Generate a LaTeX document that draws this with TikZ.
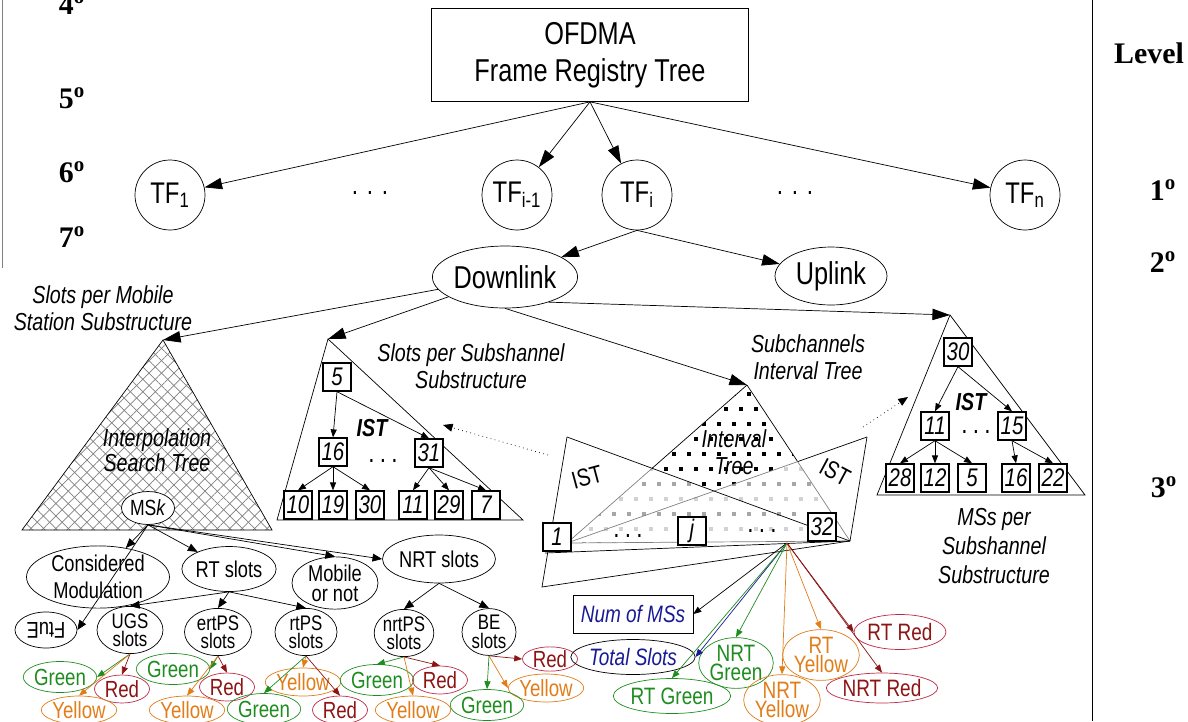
\documentclass[tikz,border=0pt]{standalone}
\usepackage{fontspec}
\setmainfont{Liberation Sans}[FakeStretch=0.8]
\newfontfamily\levelfont{Liberation Serif}
\usepackage{tikz}
\usetikzlibrary{arrows.meta, shapes.geometric, patterns.meta}

\definecolor{leafgreen}{RGB}{30,140,30}
\definecolor{leafyellow}{RGB}{225,125,25}
\definecolor{leafred}{RGB}{140,20,20}
\definecolor{leafredline}{RGB}{190,40,70}
\definecolor{slotblue}{RGB}{25,25,150}

\begin{document}
\begin{tikzpicture}[x=0.02cm, y=-0.02cm,
  every node/.style={inner sep=0pt},
  bigarr/.style={-{Triangle[length=10pt,width=6.5pt]}},
  midarr/.style={-{Triangle[length=5.5pt,width=4.5pt]}},
  smallarr/.style={-{Triangle[length=4.5pt,width=3.5pt]}},
  rootbox/.style={draw, minimum width=6.34cm, minimum height=1.86cm, align=center,
    font=\fontsize{18}{21}\selectfont},
  tf/.style={circle, draw, minimum size=1.4cm, font=\fontsize{17}{18}\selectfont},
  link/.style={ellipse, draw, font=\fontsize{18}{19}\selectfont},
  numbox/.style={draw, fill=white, line width=0.8pt, minimum size=0.56cm,
    font=\fontsize{14.5}{14}\selectfont\itshape},
  caption/.style={align=center, font=\fontsize{14}{15.5}\selectfont\itshape},
  ist/.style={font=\fontsize{14}{14}\selectfont\bfseries\itshape},
  lvlmark/.style={font=\levelfont\fontsize{17}{18}\selectfont\bfseries},
  ellip/.style={font=\fontsize{16}{16}\selectfont, anchor=base},
  sub/.style={ellipse, draw, align=center, font=\fontsize{13}{15.5}\selectfont},
  slot/.style={ellipse, draw, align=center, font=\fontsize{12}{10.5}\selectfont},
  leaf/.style={ellipse, draw=#1, text=#1, align=center, font=\fontsize{13.3}{10.5}\selectfont},
  gleaf/.style={leaf=leafgreen, minimum width=1.2cm, minimum height=0.62cm},
  yleaf/.style={leaf=leafyellow, minimum width=1.34cm, minimum height=0.56cm},
  rleaf/.style={leaf=leafredline, text=leafred, minimum width=1.1cm, minimum height=0.56cm}
]
\useasboundingbox (0,0) rectangle (1188,721);

%% level marks
\draw[gray] (2,0) -- (2,268);
\draw (1092,0) -- (1092,721);
\node[lvlmark] (l4) at (72,4) {4\textsuperscript{o}};
\node[lvlmark] (l5) at (72,98) {5\textsuperscript{o}};
\node[lvlmark] (l6) at (72,172) {6\textsuperscript{o}};
\node[lvlmark] (l7) at (72,237) {7\textsuperscript{o}};
\node[lvlmark] (lvl) at (1149,53) {Level};
\node[lvlmark] (l1) at (1163,190) {1\textsuperscript{o}};
\node[lvlmark] (l2) at (1163,262) {2\textsuperscript{o}};
\node[lvlmark] (l3) at (1164,487) {3\textsuperscript{o}};

%% frame registry tree
\node[rootbox] (ofdma) at (590,55) {OFDMA\\Frame Registry Tree};
\node[tf] (tf1)  at (170,195)  {TF\textsubscript{1}};
\node[tf] (tfim) at (517,195)  {TF\textsubscript{i-1}};
\node[tf] (tfi)  at (637,195)  {TF\textsubscript{i}};
\node[tf] (tfn)  at (1025,195) {TF\textsubscript{n}};
\node[ellip] (dotsa) at (370,194) {.\hspace{5pt}.\hspace{5pt}.};
\node[ellip] (dotsb) at (795,194) {.\hspace{5pt}.\hspace{5pt}.};
\foreach \t in {tf1,tfim,tfi,tfn}
  \draw[bigarr] (ofdma.south) -- (\t);

\node[link, minimum width=2.68cm, minimum height=1.24cm] (dl) at (505,277) {Downlink};
\node[link, minimum width=2.24cm, minimum height=1.16cm] (ul) at (831,276) {Uplink};
\draw[bigarr] (tfi.south) -- (dl);
\draw[bigarr] (tfi.south) -- (ul);

%% substructure tops
\coordinate (spmtop)  at (163,340);
\coordinate (spsstop) at (328,339);
\coordinate (ivltop)  at (747,385);
\coordinate (msstop)  at (950,315);
\draw[bigarr] (dl) -- (spmtop);
\draw[bigarr] (dl) -- (spsstop);
\draw[bigarr] (dl.south) -- (ivltop);
\draw[bigarr] (dl.-30) -- (msstop);

%% slots per mobile station
\fill[pattern={Lines[angle=45,distance=5pt,line width=0.4pt]}, pattern color=gray]
  (spmtop) -- (22,530) -- (272,530) -- cycle;
\fill[pattern={Lines[angle=-45,distance=5pt,line width=0.4pt]}, pattern color=gray]
  (spmtop) -- (22,530) -- (272,530) -- cycle;
\draw (spmtop) -- (22,530) -- (272,530) -- cycle;
\node[caption] (spmlbl) at (103,308) {Slots per Mobile\\Station Substructure};
\node[caption, font=\fontsize{14}{14.5}\selectfont\itshape] (istlbl) at (157,450) {Interpolation\\Search Tree};
\node[ellipse, draw, fill=white, minimum width=1.06cm, minimum height=0.66cm,
  font=\fontsize{12.5}{12}\selectfont] (msk) at (148,508) {MS\textit{k}};

%% slots per subchannel
\draw (spsstop) -- (277,520) -- (523,520) -- cycle;
\node[caption] (spsslbl) at (471,366) {Slots per Subshannel\\Substructure};
\node[numbox] (s5)  at (337,377) {5};
\node[numbox] (s16) at (333,452) {16};
\node[numbox] (s31) at (429,453) {31};
\node[numbox] (s10) at (298,505) {10};
\node[numbox] (s19) at (333,505) {19};
\node[numbox] (s30) at (370,505) {30};
\node[numbox] (s11) at (413,505) {11};
\node[numbox] (s29) at (449,505) {29};
\node[numbox] (s7)  at (486,505) {7};
\node[ist] (spsist) at (372,428) {IST};
\node[ellip] (spsdots) at (383,462) {.\hspace{3pt}.\hspace{3pt}.};
\draw[smallarr] (s5.south) -- (s16.north);
\draw[smallarr] (s5.south) -- (s31.north);
\foreach \c in {s10,s19,s30}
  \draw[smallarr] (s16.south) -- (\c.north);
\foreach \c in {s11,s29,s7}
  \draw[smallarr] (s31.south) -- (\c.north);

%% subchannels interval tree
\coordinate (ivlleft)  at (567,543);
\coordinate (ivlright) at (850,541);
\coordinate (listtop)  at (567,437);
\coordinate (listbot)  at (542,587);
\coordinate (ristop)   at (867,437);
\coordinate (pl) at (intersection of ivltop--ivlleft and listtop--ivlright);
\coordinate (pr) at (intersection of ivltop--ivlright and ristop--ivlleft);
\coordinate (px) at (intersection of listtop--ivlright and ristop--ivlleft);
\begin{scope}
  \clip (ivltop) -- (ivlleft) -- (ivlright) -- cycle;
  \foreach \y in {392,422,...,542}
    \foreach \x in {552,567,...,862}
      \fill[gray!70] (\x,\y) rectangle ++(3.5,3.5);
  \foreach \y in {407,437,...,547}
    \foreach \x in {559,574,...,862}
      \fill[gray!35] (\x,\y) rectangle ++(3.5,3.5);
\end{scope}
\begin{scope}
  \clip (ivltop) -- (pl) -- (px) -- (pr) -- cycle;
  \fill[white] (600,380) rectangle (860,500);
  \foreach \y in {392,422,...,512}
    \foreach \x in {552,567,...,862}
      \fill (\x,\y) rectangle ++(3.5,3.5);
  \foreach \y in {407,437,...,512}
    \foreach \x in {559,574,...,862}
      \fill (\x,\y) rectangle ++(3.5,3.5);
\end{scope}
\draw (ivltop) -- (pl);
\draw[gray] (pl) -- (ivlleft);
\draw (ivltop) -- (pr);
\draw[gray] (pr) -- (ivlright);
\draw (ristop) -- (pr);
\draw[gray] (pr) -- (ivlleft);
\draw[gray] (ivlleft) -- (ivlright);
\draw (listtop) -- (ivlright);
\draw (listtop) -- (listbot) -- (ivlright);
\draw (ristop) -- (ivlright);
\draw (545,553) -- (ivlright);
\node[numbox] (b1)  at (557,537) {1};
\node[numbox] (bj)  at (692,531) {j};
\node[numbox] (b32) at (822,527) {32};
\node[ellip] (ivldotsa) at (628,537) {.\hspace{3pt}.\hspace{3pt}.};
\node[ellip] (ivldotsb) at (762,532) {.\hspace{3pt}.\hspace{3pt}.};
\node[font=\fontsize{14}{14}\selectfont, rotate=15]  (listlbl) at (587,477) {IST};
\node[font=\fontsize{14}{14}\selectfont, rotate=-28] (ristlbl) at (835,472) {IST};
\node[caption] (ivlin) at (734,452) {Interval\\Tree};
\node[caption] (ivllbl) at (808,357) {Subchannels\\Interval Tree};

%% links between substructures
\coordinate (dotl) at (548,455);
\coordinate (spsside) at (443,425);
\coordinate (dotr) at (863,427);
\coordinate (mssside) at (908,397);
\draw[dotted, midarr] (dotl) -- (spsside);
\draw[dotted, midarr] (dotr) -- (mssside);

%% MSs per subchannel
\draw (msstop) -- (877,495) -- (1085,495) -- cycle;
\node[caption, font=\fontsize{14}{16.5}\selectfont\itshape] (msslbl) at (994,546) {MSs per\\Subshannel\\Substructure};
\node[numbox] (m30) at (958,352)  {30};
\node[numbox] (m11) at (935,426)  {11};
\node[numbox] (m15) at (1012,426) {15};
\node[numbox] (m28) at (900,478)  {28};
\node[numbox] (m12) at (935,478)  {12};
\node[numbox] (m5)  at (972,478)  {5};
\node[numbox] (m16) at (1016,478) {16};
\node[numbox] (m22) at (1053,478) {22};
\node[ist] (mssist) at (971,402) {IST};
\node[ellip] (mssdots) at (976,433) {.\hspace{3pt}.\hspace{3pt}.};
\draw[smallarr] (m30.south) -- (m11.north);
\draw[smallarr] (m30.south) -- (m15.north);
\foreach \c in {m28,m12,m5}
  \draw[smallarr] (m11.south) -- (\c.north);
\foreach \c in {m16,m22}
  \draw[smallarr] (m15.south) -- (\c.north);

%% mobile station record
\node[sub, minimum width=2.86cm, minimum height=1.2cm] (cmod) at (98,577) {Considered\\Modulation};
\node[sub, minimum width=1.86cm, minimum height=0.9cm] (rts) at (229,569) {RT slots};
\node[sub, minimum width=1.72cm, minimum height=1.04cm, font=\fontsize{13}{11.5}\selectfont] (mob) at (335,583) {Mobile\\or not};
\node[sub, minimum width=2.26cm, minimum height=0.96cm] (nrts) at (439,559) {NRT slots};
\node[sub, minimum width=1.24cm, minimum height=0.72cm] (odd) at (46,630) {\rotatebox{180}{FtuE}};
\draw[midarr] (msk.south) -- (cmod);
\draw[midarr] (msk.south) -- (rts);
\draw[midarr] (msk.south) -- (mob.north);
\draw[midarr] (msk.south) -- (nrts.west);
\draw[midarr] (msk.south) -- (odd.east);

\node[slot, minimum width=1.32cm, minimum height=0.8cm]  (ugs)  at (130,630) {UGS\\slots};
\node[slot, minimum width=1.34cm, minimum height=0.82cm] (ert)  at (218,632) {ertPS\\slots};
\node[slot, minimum width=1.24cm, minimum height=0.74cm] (rtp)  at (306,632) {rtPS\\slots};
\node[slot, minimum width=1.16cm, minimum height=0.7cm]  (nrtp) at (404,633) {nrtPS\\slots};
\node[slot, minimum width=1.08cm, minimum height=0.74cm] (be)   at (489,632) {BE\\slots};
\foreach \c in {ugs,ert,rtp}
  \draw[midarr] (rts.south) -- (\c.north);
\foreach \c in {nrtp,be}
  \draw[midarr] (nrts.south) -- (\c.north);

%% colour counters per class
\node[gleaf] (ugsg) at (60,677)  {Green};
\node[rleaf] (ugsr) at (122,689) {Red};
\node[yleaf] (ugsy) at (79,710)  {Yellow};
\node[gleaf] (ertg) at (173,669) {Green};
\node[rleaf] (ertr) at (227,687) {Red};
\node[yleaf] (erty) at (187,710) {Yellow};
\node[yleaf] (rtpy) at (303,682) {Yellow};
\node[gleaf] (rtpg) at (264,709) {Green};
\node[rleaf] (rtpr) at (340,710) {Red};
\node[gleaf] (nrtpg) at (377,680) {Green};
\node[rleaf] (nrtpr) at (440,680) {Red};
\node[yleaf] (nrtpy) at (413,710) {Yellow};
\node[rleaf, minimum height=0.46cm] (ber) at (550,659) {Red};
\node[yleaf] (bey) at (546,688) {Yellow};
\node[gleaf] (beg) at (487,705) {Green};

\draw[smallarr, leafgreen]  (ugs.south) -- (ugsg.east);
\draw[smallarr, leafred]    (ugs.south) -- (ugsr.north);
\draw[smallarr, leafyellow] (ugs.south) -- (ugsy.north);
\draw[smallarr, leafgreen]  (ert.south) -- (ertg.east);
\draw[smallarr, leafred]    (ert.south) -- (ertr.north);
\draw[smallarr, leafyellow] (ert.south) -- (erty.north);
\draw[smallarr, leafyellow] (rtp.south) -- (rtpy.north);
\draw[smallarr, leafgreen]  (rtp.south) -- (rtpg.north);
\draw[smallarr, leafred]    (rtp.south) -- (rtpr.north);
\draw[smallarr, leafgreen]  (nrtp.south) -- (nrtpg.north);
\draw[smallarr, leafred]    (nrtp.south) -- (nrtpr.north);
\draw[smallarr, leafyellow] (nrtp.south) -- (nrtpy.north);
\draw[smallarr, leafred]    (be.south) -- (ber.west);
\draw[smallarr, leafyellow] (be.south) -- (bey.west);
\draw[smallarr, leafgreen]  (be.south) -- (beg.north);

%% interval tree counters
\coordinate (fan) at (787,543);
\node[draw, minimum width=2.4cm, minimum height=0.76cm, text=slotblue,
  font=\fontsize{13.5}{14}\selectfont\itshape] (nms) at (633,614) {Num of MSs};
\node[ellipse, draw, minimum width=2cm, minimum height=0.7cm, text=slotblue,
  font=\fontsize{13.5}{14}\selectfont\itshape] (tslots) at (633,657) {Total Slots};
\node[leaf=leafgreen, minimum width=1.82cm, minimum height=0.7cm, font=\fontsize{13.5}{11}\selectfont] (rtg) at (672,696) {RT Green};
\node[leaf=leafgreen, minimum width=1.42cm, minimum height=0.94cm, font=\fontsize{13.5}{11}\selectfont] (nrtg) at (736,663) {NRT\\Green};
\node[leaf=leafyellow, minimum width=1.46cm, minimum height=0.9cm, font=\fontsize{13.5}{11}\selectfont] (nrty) at (782,700) {NRT\\Yellow};
\node[leaf=leafyellow, minimum width=1.46cm, minimum height=0.88cm, font=\fontsize{13.5}{11}\selectfont] (rty) at (821,655) {RT\\Yellow};
\node[leaf=leafredline, text=leafred, minimum width=1.54cm, minimum height=0.7cm, font=\fontsize{13.5}{11}\selectfont] (rtr) at (900,632) {RT Red};
\node[leaf=leafredline, text=leafred, minimum width=1.78cm, minimum height=0.6cm, font=\fontsize{13.5}{11}\selectfont] (nrtr) at (882,688) {NRT Red};
\draw[smallarr]             (fan) -- (nms.east);
\draw[smallarr, slotblue]   (fan) -- (tslots.east);
\draw[smallarr, leafgreen]  (fan) -- (rtg.north);
\draw[smallarr, leafgreen]  (fan) -- (nrtg.north);
\draw[smallarr, leafyellow] (fan) -- (nrty.north);
\draw[smallarr, leafyellow] (fan) -- (rty.north);
\draw[smallarr, leafred]    (fan) -- (rtr.west);
\draw[smallarr, leafred]    (fan) -- (nrtr.north);

\end{tikzpicture}
\end{document}
